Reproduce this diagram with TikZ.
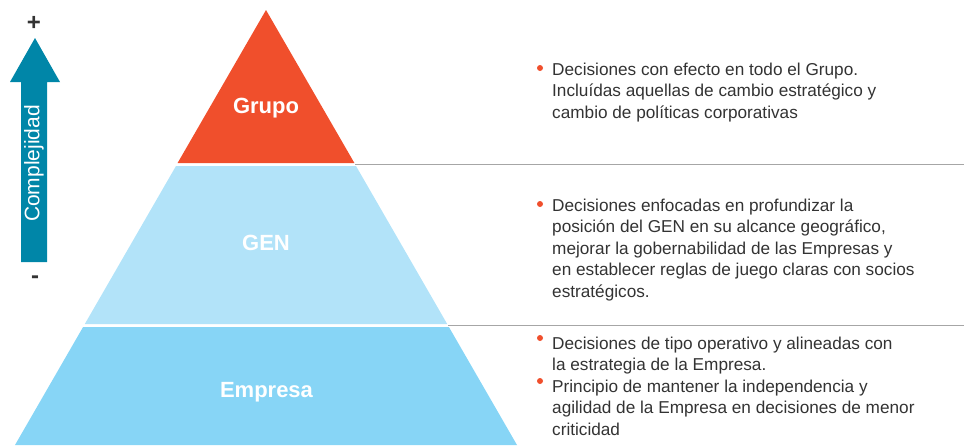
\documentclass[tikz,border=0pt]{standalone}
\usepackage{fontspec}
\setmainfont{Liberation Sans}
\usepackage{tikz}
\definecolor{grupocol}{HTML}{F04F2C}
\definecolor{gencol}{HTML}{B2E3F9}
\definecolor{empcol}{HTML}{87D5F6}
\definecolor{flecha}{HTML}{0086A8}
\definecolor{texto}{HTML}{333333}
\definecolor{divisor}{HTML}{A6A6A6}
\tikzset{
  nivel/.style={font=\fontsize{22}{26}\selectfont\bfseries, text=white, anchor=base, inner sep=0pt},
  punto/.style={circle, fill=grupocol, minimum size=6pt, inner sep=0pt},
  descr/.style={font=\fontsize{17.2}{21.5}\selectfont, text=texto, anchor=base west, align=left, inner sep=0pt},
  signo/.style={font=\fontsize{24}{26}\selectfont\bfseries, text=texto, inner sep=0pt}
}
\begin{document}
\begin{tikzpicture}[x=1pt,y=-1pt]
\useasboundingbox (0,0) rectangle (964,445);
% piramide
\fill[grupocol] (266,10) -- (354.4,163) -- (177.6,163) -- cycle;
\fill[gencol] (176,166) -- (356,166) -- (447.2,324) -- (84.8,324) -- cycle;
\fill[empcol] (83.1,327) -- (448.9,327) -- (517,445) -- (15,445) -- cycle;
\node[nivel] (grupo) at (266,113) {Grupo};
\node[nivel] (gen) at (266,250) {GEN};
\node[nivel] (empresa) at (266.5,397) {Empresa};
% divisores
\coordinate (d1a) at (355,164.5);
\coordinate (d1b) at (964,164.5);
\coordinate (d2a) at (448,325.5);
\coordinate (d2b) at (964,325.5);
\draw[divisor, line width=1.5pt] (d1a) -- (d1b);
\draw[divisor, line width=1.5pt] (d2a) -- (d2b);
% flecha de complejidad
\fill[flecha] (35,38) -- (60,82) -- (47,82) -- (47,262) -- (21,262) -- (21,82) -- (10,82) -- cycle;
\node[font=\fontsize{21}{25}\selectfont, text=white, rotate=90, inner sep=0pt] (compl) at (34,163.5) {Complejidad};
\node[signo] (mas) at (34,23) {+};
\node[signo] (menos) at (35,280) {-};
% descripciones (base = ultima linea)
\node[punto] (b1) at (540,68) {};
\node[descr] (t1) at (552,118) {Decisiones con efecto en todo el Grupo.\\Incluídas aquellas de cambio estratégico y\\cambio de políticas corporativas};
\node[punto] (b2) at (540,204) {};
\node[descr] (t2) at (552,297) {Decisiones enfocadas en profundizar la\\posición del GEN en su alcance geográfico,\\mejorar la gobernabilidad de las Empresas y\\en establecer reglas de juego claras con socios\\estratégicos.};
\node[punto] (b3) at (540,338) {};
\node[descr] (t3) at (552,370.5) {Decisiones de tipo operativo y alineadas con\\la estrategia de la Empresa.};
\node[punto] (b4) at (540,381) {};
\node[descr] (t4) at (552,435) {Principio de mantener la independencia y\\agilidad de la Empresa en decisiones de menor\\criticidad};
\end{tikzpicture}
\end{document}
